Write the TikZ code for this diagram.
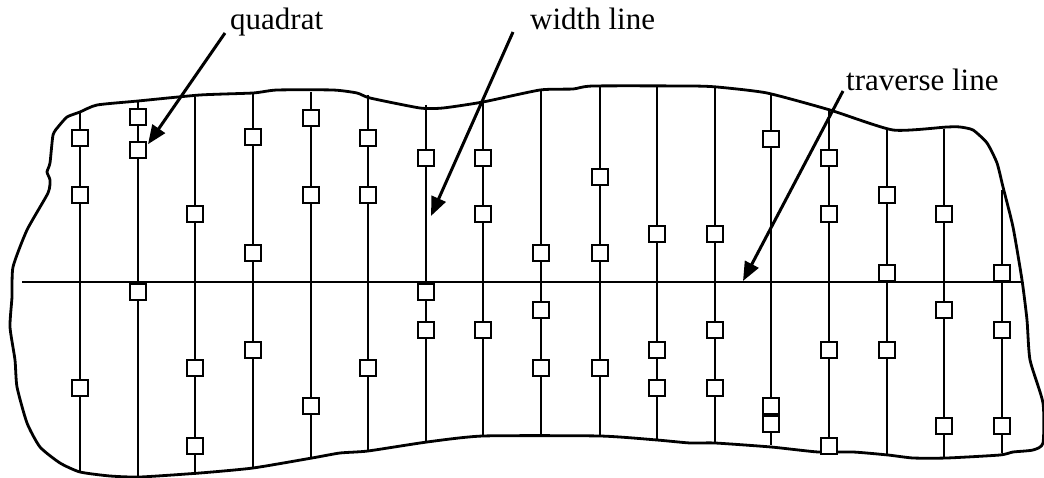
\documentclass[tikz,border=0pt]{standalone}
\usepackage{fontspec}
\setmainfont{Liberation Serif}
\usetikzlibrary{arrows.meta}
\begin{document}
\begin{tikzpicture}[x=1pt,y=-1pt,
  quad/.style={draw,line width=2.3pt,fill=white,minimum width=16pt,minimum height=15.5pt,inner sep=0pt,outer sep=0pt},
  wline/.style={line width=2.3pt},
  border/.style={line width=2.8pt,line join=round},
  ptr/.style={line width=3pt,-{Triangle[length=19pt,width=15pt]}},
  lbl/.style={font=\fontsize{31}{36}\selectfont,anchor=base west,inner sep=0pt}]
\useasboundingbox (0,0) rectangle (1044,478);
% boundary of the site
\draw[border] plot[smooth,tension=0.35] coordinates {
 (58,127) (67,117) (80,112) (97,105) (138,101) (200,95) (253,93) (277,90) (333,90)
 (357,93) (370,98) (420,108) (443,108) (483,102) (540,90) (573,89) (593,86) (690,86)
 (717,87) (767,93) (830,110) (893,130) (947,127) (960,127) (973,130) (987,143)
 (997,163) (1003,187) (1013,227) (1022,280) (1027,320) (1030,360) (1043,403)
 (1043,443) (1033,450) (1013,452) (1000,455) (947,458) (913,458) (888,455)
 (853,452) (818,452) (771,447) (715,443) (690,443) (657,440) (600,436) (483,436)
 (427,442) (368,451) (340,453) (312,458) (253,468) (200,473) (140,477) (110,476)
 (80,472) (60,463) (40,447) (27,423) (17,387) (15,360) (10,327) (12,297) (13,267)
 (27,230) (48,193) (50,180) (47,172) (50,163) (53,135) (58,127)};
% traverse line
\coordinate (trL) at (22,282);
\coordinate (trR) at (1022,282);
\draw[wline] (trL) -- (trR);
% width lines with quadrats
\foreach \n/\x/\t/\b/\qs in {
1/80/112/472/{138,195,388},
2/138/101/478/{117,150,292},
3/195/97/475/{214,368,446},
4/253/93/468/{137,253,350},
5/311/92/458/{118,195,406},
6/368/95/452/{138,195,368},
7/426/105/442/{158,292,330},
8/483/100/436/{158,214,330},
9/541/90/436/{253,310,368},
10/600/87/436/{177,253,368},
11/657/87/440/{234,350,388},
12/715/87/443/{234,330,388},
13/771/95/445/{139,406,424},
14/829/110/453/{158,214,350,446},
15/887/129/455/{195,273,350},
16/944/129/458/{214,310,426},
17/1002/190/453/{273,330,426}}{
  \coordinate (top\n) at (\x,\t);
  \coordinate (bot\n) at (\x,\b);
  \draw[wline] (top\n) -- (bot\n);
  \foreach \y [count=\k] in \qs {
    \node[quad] (q\n-\k) at (\x,\y) {};
  }
}
% labels and pointers
\node[lbl] (lq) at (230,30) {quadrat};
\node[lbl] (lw) at (530,30) {width line};
\node[lbl] (lt) at (846,91) {traverse line};
\coordinate (sq) at (225,33);
\coordinate (sw) at (513,32);
\coordinate (st) at (843,91);
\coordinate (tw) at (431,216);
\coordinate (tt) at (743,281);
\draw[ptr] (sq) -- ([shift={(2,2)}]q2-2.north east);
\draw[ptr] (sw) -- (tw);
\draw[ptr] (st) -- (tt);
\end{tikzpicture}
\end{document}
